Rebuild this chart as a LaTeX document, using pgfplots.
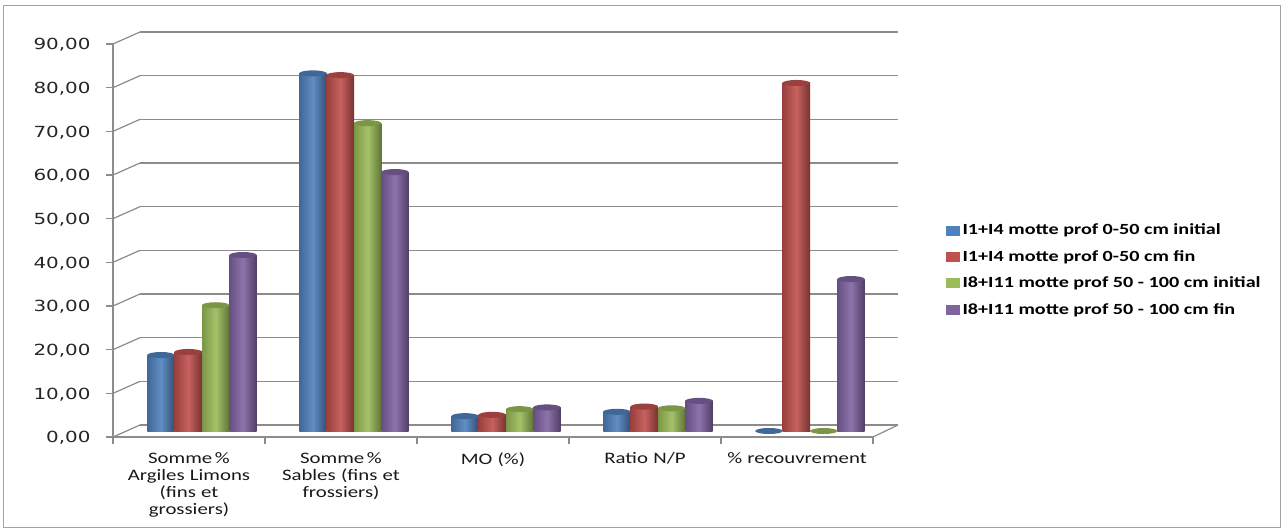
\documentclass[border=0pt]{standalone}
\usepackage{fontspec}
\setmainfont{Carlito}[FakeStretch=1.3]
\newfontfamily\tickfont{DejaVu Sans}[FakeStretch=1.3]
\usepackage{pgfplots}
\pgfplotsset{compat=1.18}
\usetikzlibrary{shapes.geometric}
\definecolor{cA}{HTML}{4F81BD}
\definecolor{cB}{HTML}{C0504D}
\definecolor{cC}{HTML}{9BBB59}
\definecolor{cD}{HTML}{8064A2}
\definecolor{gridgray}{HTML}{8C8C8C}
\pgfplotsset{
  cyl/.style={draw=none, fill=#1, forget plot,
    left color=#1!80!black, right color=#1!62!black, middle color=#1!90!white,
    nodes near coords={},
    every node near coord/.append style={ellipse, minimum width=27.4pt, minimum height=6pt,
      inner sep=0pt, fill=#1!80!black, draw=none, anchor=center}},
  leg/.style={legend image code/.code={\fill[#1] (0pt,-4.5pt) rectangle (13pt,4.5pt);}},
}
% one cylinder: colour, shift, x, y
\newcommand\cyl[4]{\addplot[cyl=#1, bar shift=#2] coordinates {(#3,#4)};}
\newcommand\series[6]{\cyl{#1}{#2}{0}{#3}\cyl{#1}{#2}{1}{#4}\cyl{#1}{#2}{2}{#5}\cyl{#1}{#2}{3}{#6}}
\begin{document}
\begin{tikzpicture}
\useasboundingbox (0,0) rectangle (1284pt,528pt);
\draw[gridgray!80, line width=1pt] (3.5pt,1pt) rectangle (1280.5pt,522pt);
% back wall with gridlines
\begin{axis}[at={(140pt,103pt)}, anchor=south west, scale only axis,
  width=758pt, height=393pt, xmin=0, xmax=1, ymin=0, ymax=90,
  axis line style={draw=none}, xtick=\empty, ytick={0,10,...,90}, yticklabels={},
  major tick length=0pt, ymajorgrids, grid style={gridgray, line width=1.2pt}]
\end{axis}
% bars
\begin{axis}[at={(126pt,97pt)}, anchor=south west, scale only axis,
  width=760pt, height=393pt, xmin=-0.5, xmax=4.5, ymin=0, ymax=90,
  hide axis, ybar=0pt, bar width=0.18, clip=false,
  legend style={at={(1.075,0.41)}, anchor=west, draw=none, fill=none,
    font=\bfseries\fontsize{15.5pt}{17pt}\selectfont, row sep=10pt,
    nodes={inner xsep=3pt}},
  legend cell align=left]
\series{cA}{-0.27}{17.4}{81.9}{3.4}{4.4}
\cyl{cA}{-0.27}{4}{0}
\series{cB}{-0.09}{18.1}{81.5}{3.7}{5.6}
\cyl{cB}{-0.09}{4}{79.7}
\series{cC}{0.09}{28.8}{70.5}{5.0}{5.2}
\cyl{cC}{0.09}{4}{0}
\series{cD}{0.27}{40.3}{59.3}{5.4}{6.9}
\cyl{cD}{0.27}{4}{34.8}
\addlegendimage{leg=cA}\addlegendentry{I1+I4 motte prof 0-50 cm initial}
\addlegendimage{leg=cB}\addlegendentry{I1+I4 motte prof 0-50 cm fin}
\addlegendimage{leg=cC}\addlegendentry{I8+I11 motte prof 50 - 100 cm initial}
\addlegendimage{leg=cD}\addlegendentry{I8+I11 motte prof 50 - 100 cm fin}
\end{axis}
% front axis
\begin{axis}[at={(113pt,91pt)}, anchor=south west, scale only axis,
  width=760pt, height=393pt, xmin=0, xmax=5, ymin=0, ymax=90, clip=false,
  axis x line*=bottom, axis y line*=left,
  axis line style={gridgray, line width=1.2pt, -},
  tick align=outside, major tick length=7pt, minor tick length=7pt,
  ytick={0,10,...,90},
  yticklabels={{0,00},{10,00},{20,00},{30,00},{40,00},{50,00},{60,00},{70,00},{80,00},{90,00}},
  yticklabel style={font=\tickfont\fontsize{15.3pt}{18pt}\selectfont, text=black!85, xshift=-12pt, yshift=-1pt},
  major y tick style={gridgray, line width=1.2pt},
  xtick={0.5,1.5,...,4.5},
  xticklabels={{Somme\,\%\\Argiles Limons\\(fins et\\grossiers)},
    {Somme\,\%\\Sables (fins et\\frossiers)}, {MO (\%)}, {Ratio N/P}, {\% recouvrement}},
  xticklabel style={font=\fontsize{16pt}{17pt}\selectfont, text width=140pt, align=center, text=black!90, yshift=-5pt},
  major x tick style={draw=none},
  minor xtick={0,1,...,5},
  minor x tick style={gridgray, line width=1.2pt}]
\pgfplotsinvokeforeach{0,10,...,90}{\draw[gridgray, line width=1.2pt] (axis cs:0,#1) -- ++(27pt,12pt);}
\draw[gridgray, line width=1.2pt] (axis cs:5,0) -- ++(25pt,12pt);
\end{axis}
\end{tikzpicture}
\end{document}
